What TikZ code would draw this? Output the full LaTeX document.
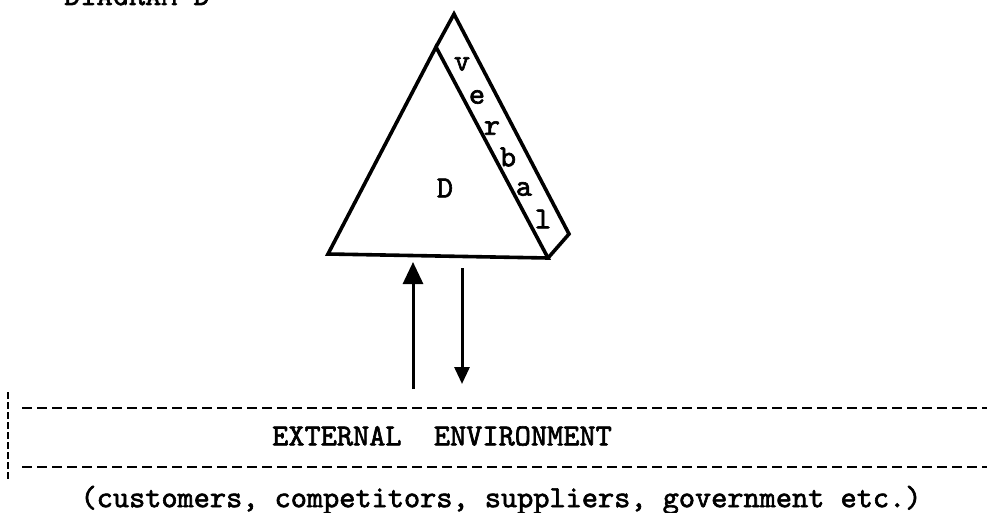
\documentclass[tikz,border=0pt]{standalone}
\usepackage{fontspec}
\newfontfamily\twfont[Extension=.otf,FakeBold=2]{lmmono10-regular}
\usetikzlibrary{arrows.meta}
\begin{document}
\begin{tikzpicture}[x=1pt,y=-1pt,
  txt/.style={font=\twfont\bfseries\fontsize{30.8}{33}\selectfont, inner sep=0pt},
  edge/.style={line width=3.6pt, line join=miter},
  flow/.style={line width=3pt},
  envline/.style={line width=2.4pt, dash pattern=on 10pt off 5pt},
  envside/.style={line width=2.4pt, dash pattern=on 7pt off 3pt},
]
\useasboundingbox (0,0) rectangle (987,513);
\clip (0,0) rectangle (987,513);

% heading, partly above the top edge
\node[txt, anchor=base west] (title) at (64,5) {DIAGRAM D};

% the triangle with its "verbal" band along the right side
\coordinate (apex) at (436,47);
\coordinate (bl) at (328,254);
\coordinate (br) at (548,258);
\coordinate (bandtop) at (454,14);
\coordinate (bandright) at (569,234);
\draw[edge] (apex) -- (bl) -- (br) -- cycle;
\draw[edge] (apex) -- (bandtop) -- (bandright) -- (br);

\node[txt] (d) at (445,188) {D};
\node[txt] (v) at (462,64) {v};
\node[txt] (e) at (477,97) {e};
\node[txt] (r) at (492,128) {r};
\node[txt] (b) at (508,157) {b};
\node[txt] (a) at (524,189) {a};
\node[txt] (l) at (543,219) {l};

% flows between the triangle and the environment
\coordinate (upfoot) at (413,389);
\coordinate (uptip) at (413,262);
\coordinate (downstart) at (462,268);
\coordinate (downtip) at (462,384);
\draw[flow, -{Triangle[width=20pt,length=22pt]}] (upfoot) -- (uptip);
\draw[flow, -{Triangle[width=15pt,length=17pt]}] (downstart) -- (downtip);

% external environment band
\coordinate (envtl) at (22,408);
\coordinate (envtr) at (987,408);
\coordinate (envbl) at (22,467);
\coordinate (envbr) at (987,467);
\coordinate (sidetop) at (8,392);
\coordinate (sidebot) at (8,482);
\draw[envline] (envtl) -- (envtr);
\draw[envline] (envbl) -- (envbr);
\draw[envside] (sidetop) -- (sidebot);

\node[txt] (env) at (442,436) {EXTERNAL\ \ ENVIRONMENT};
\node[txt] (who) at (501,500) {(customers, competitors, suppliers, government etc.)};
\end{tikzpicture}
\end{document}
